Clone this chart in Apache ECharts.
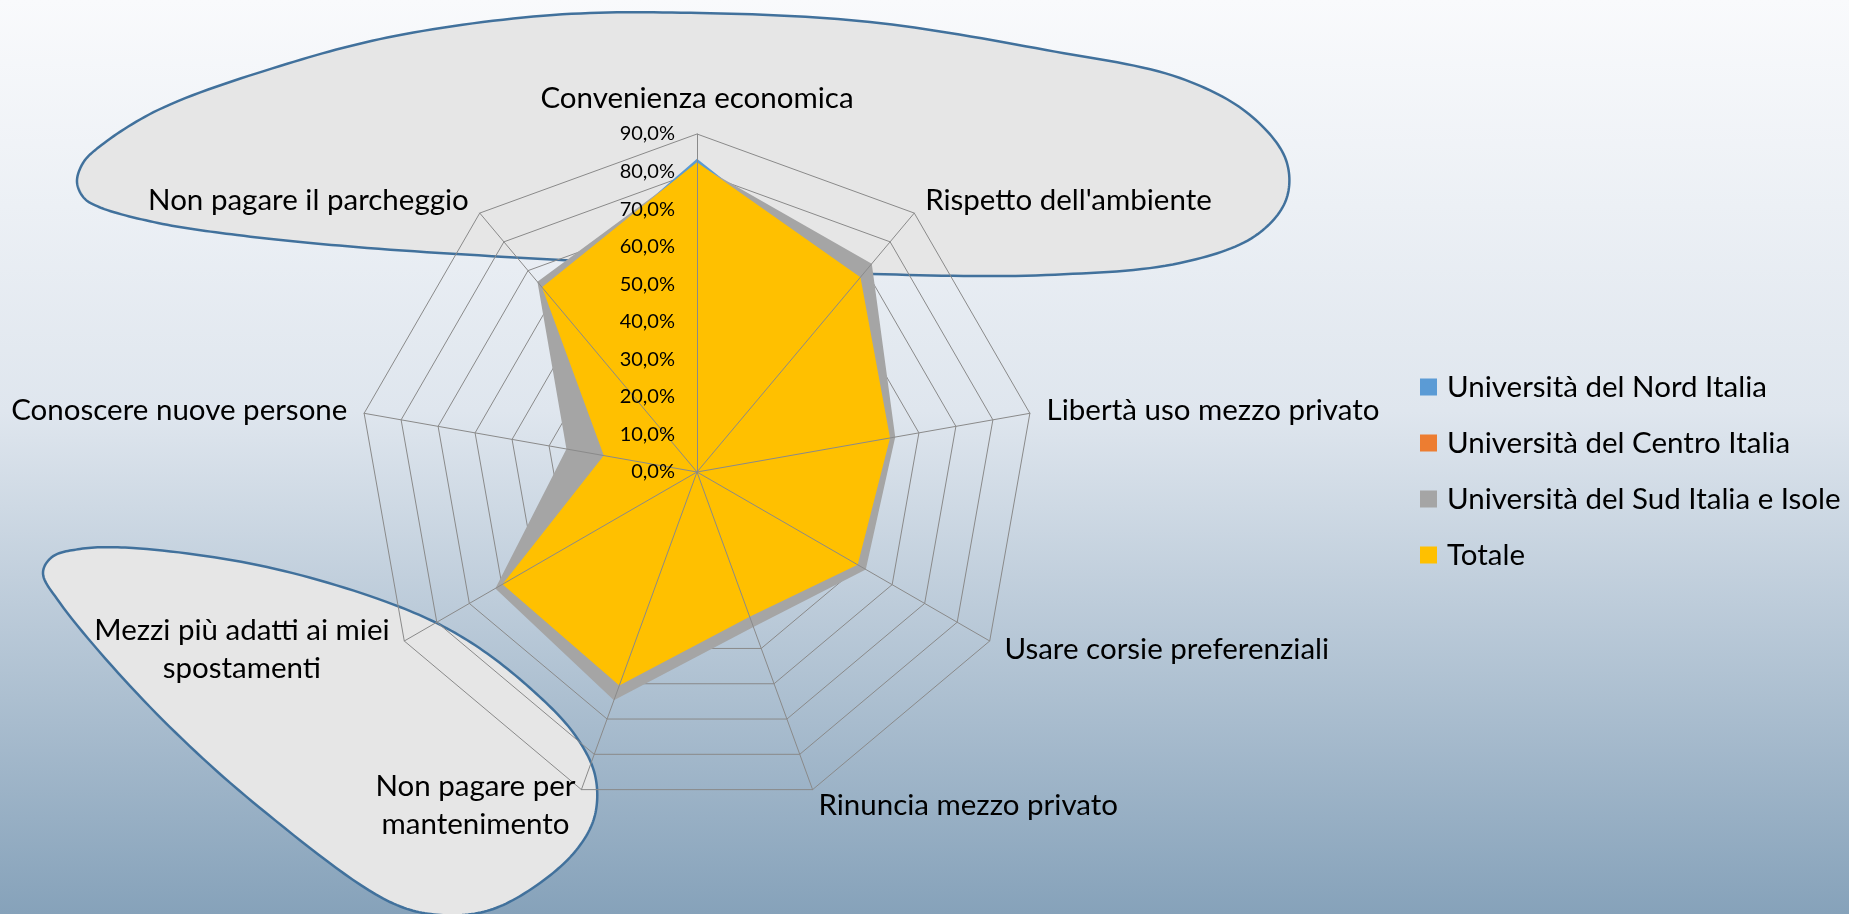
<!DOCTYPE html>
<html>
<head>
<meta charset="utf-8">
<script src="https://cdn.jsdelivr.net/npm/echarts@6/dist/echarts.min.js"></script>
<style>
  html, body { margin: 0; padding: 0; }
  #chart { width: 1849px; height: 914px; }
</style>
</head>
<body>
<div id="chart"></div>
<script>
// categorie in senso orario a partire dall'alto
const categories = [
  'Convenienza economica',
  "Rispetto dell'ambiente",
  'Libertà uso mezzo privato',
  'Usare corsie preferenziali',
  'Rinuncia mezzo privato',
  'Non pagare per\nmantenimento',
  'Mezzi più adatti ai miei\nspostamenti',
  'Conoscere nuove persone',
  'Non pagare il parcheggio'
]
const seriesNames = [
  'Università del Nord Italia',
  'Università del Centro Italia',
  'Università del Sud Italia e Isole',
  'Totale'
]
const nord = [83.4, 65.5, 51.0, 48.0, 39.0, 58.0, 58.5, 19.5, 63.0]
const centro = [80.5, 66.0, 51.5, 48.5, 40.0, 59.0, 59.0, 23.0, 63.5]
const sud = [82.0, 72.4, 53.6, 51.9, 43.9, 64.7, 62.0, 35.3, 66.1]
const totale = [82.5, 67.7, 52.2, 49.4, 41.0, 60.5, 59.8, 25.2, 64.2]
const axisMax = 90
const colors = ['#5b9bd5', '#ed7d31', '#a5a5a5', '#ffc000']

// echarts disegna gli assi in senso antiorario: riordino
const order = [0, 8, 7, 6, 5, 4, 3, 2, 1]
const reorder = (arr) => order.map((i) => arr[i])

const FONT = 'Lato, "Open Sans", sans-serif'
const gridColor = '#8a8a8a'
const center = [697, 472]
const radius = 338

// contorni dei due fumetti (decorazione)
const bubbleTop = [
  [77, 182], [83, 163], [99, 147], [158, 110], [280, 66], [395, 36], [553, 15], [700, 13],
  [870, 22], [1046, 50], [1180, 78], [1250, 115], [1286, 160], [1286, 200], [1255, 236],
  [1180, 263], [1046, 275], [872, 274], [561, 260], [356, 247], [237, 235], [158, 223],
  [99, 207], [84, 198]
]
const bubbleBottom = [
  [43, 573], [52, 557], [80, 549], [133, 548], [267, 567], [400, 607], [467, 640], [530, 688],
  [575, 735], [595, 775], [595, 815], [578, 848], [540, 883], [490, 910], [440, 915],
  [390, 902], [260, 808], [150, 707], [60, 603]
]

// spline di Catmull-Rom centripeta chiusa, campionata in punti
function smoothOutline(pts, steps) {
  const n = pts.length
  const out = []
  const knot = (a, b) => Math.pow(Math.hypot(b[0] - a[0], b[1] - a[1]), 0.5) || 1e-4
  const lerp = (a, b, ta, tb, t) => [0, 1].map((k) => ((tb - t) * a[k] + (t - ta) * b[k]) / (tb - ta))
  for (let i = 0; i < n; i++) {
    const p0 = pts[(i - 1 + n) % n], p1 = pts[i], p2 = pts[(i + 1) % n], p3 = pts[(i + 2) % n]
    const t0 = 0, t1 = t0 + knot(p0, p1), t2 = t1 + knot(p1, p2), t3 = t2 + knot(p2, p3)
    for (let s = 0; s < steps; s++) {
      const t = t1 + (t2 - t1) * s / steps
      const a1 = lerp(p0, p1, t0, t1, t), a2 = lerp(p1, p2, t1, t2, t), a3 = lerp(p2, p3, t2, t3, t)
      const b1 = lerp(a1, a2, t0, t2, t), b2 = lerp(a2, a3, t1, t3, t)
      out.push(lerp(b1, b2, t1, t2, t))
    }
  }
  return out
}

const indicators = (withLabel) =>
  reorder(categories).map((name, i) => ({
    name: name,
    min: 0,
    max: axisMax,
    axisLabel: { show: withLabel && i === 0 }
  }))

const chart = echarts.init(document.getElementById('chart'), null, { renderer: 'canvas' })

const bubbleStyle = { fill: '#e6e6e6', stroke: '#41719c', lineWidth: 2.5 }

const option = {
  animation: false,
  backgroundColor: {
    type: 'linear',
    x: 0, y: 0, x2: 0, y2: 1,
    colorStops: [
      { offset: 0, color: '#f9fafc' },
      { offset: 0.45, color: '#dfe6ee' },
      { offset: 1, color: '#86a2ba' }
    ]
  },
  graphic: [
    { type: 'polygon', z: -5, shape: { points: smoothOutline(bubbleTop, 16) }, style: bubbleStyle },
    { type: 'polygon', z: -5, shape: { points: smoothOutline(bubbleBottom, 16) }, style: bubbleStyle }
  ],
  legend: {
    orient: 'vertical',
    left: 1415,
    top: 365,
    icon: 'rect',
    itemWidth: 17,
    itemHeight: 17,
    itemGap: 22,
    selectedMode: false,
    data: seriesNames,
    textStyle: { fontFamily: FONT, fontSize: 29.5, color: '#000', lineHeight: 34, padding: [0, 0, 0, 5] }
  },
  radar: [
    {
      // griglia poligonale (sotto le aree)
      z: 1,
      center: center,
      radius: radius,
      shape: 'polygon',
      splitNumber: 9,
      indicator: indicators(false),
      nameGap: 17,
      axisName: {
        color: '#000',
        fontFamily: FONT,
        fontSize: 29.5,
        formatter: (name) => name.split('\n').map((s) => '{c|' + s + '}').join('\n'),
        rich: { c: { align: 'center', fontFamily: FONT, fontSize: 29.5, color: '#000', lineHeight: 38 } }
      },
      axisLine: { show: false },
      axisTick: { show: false },
      splitLine: { lineStyle: { color: gridColor, width: 1 } },
      splitArea: { show: false }
    },
    {
      // raggi ed etichette (sopra le aree)
      z: 5,
      center: center,
      radius: radius,
      shape: 'polygon',
      splitNumber: 9,
      indicator: indicators(true),
      axisName: { show: false },
      axisLine: { lineStyle: { color: gridColor, width: 1 } },
      axisTick: { show: false },
      axisLabel: {
        show: true,
        margin: 22,
        color: '#000',
        fontFamily: FONT,
        fontSize: 20,
        formatter: (v) => v.toFixed(1).replace('.', ',') + '%'
      },
      splitLine: { show: false },
      splitArea: { show: false }
    }
  ],
  series: [
    {
      type: 'radar',
      radarIndex: 0,
      symbol: 'none',
      data: [nord, centro, sud, totale].map((vals, k) => ({
        name: seriesNames[k],
        value: reorder(vals),
        itemStyle: { color: colors[k] },
        lineStyle: { color: colors[k], width: 1, opacity: 0 },
        areaStyle: { color: colors[k], opacity: 1 }
      }))
    }
  ]
}

chart.setOption(option)
</script>
</body>
</html>
